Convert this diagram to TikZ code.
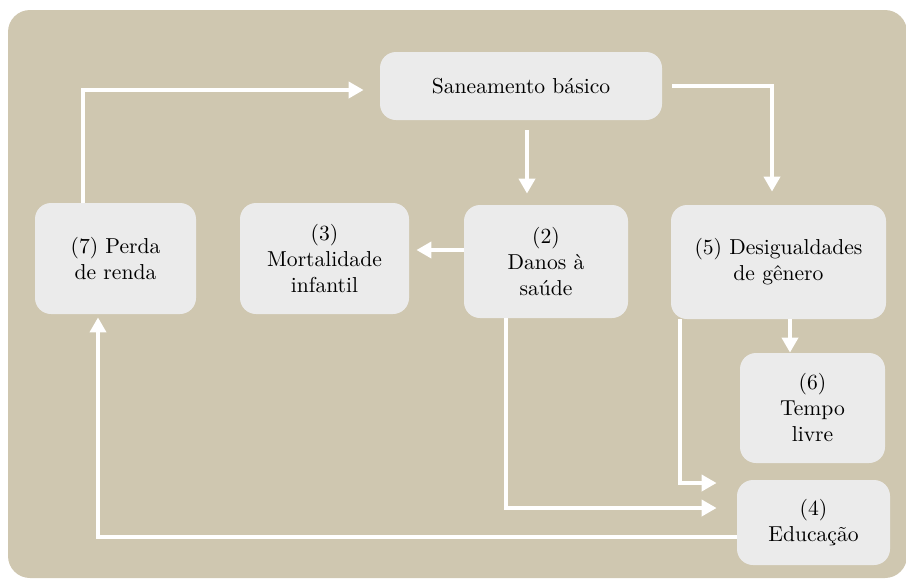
\documentclass[tikz,border=0pt]{standalone}
\usetikzlibrary{arrows.meta}

\definecolor{panelbeige}{RGB}{207,199,176}
\definecolor{boxgray}{RGB}{235,235,235}

\begin{document}
\begin{tikzpicture}[x=0.5pt,y=-0.5pt,
    box/.style={fill=boxgray,rounded corners=8pt,inner sep=2pt,align=center,
      font=\fontsize{10.8}{13}\selectfont},
    flow/.style={draw=white,line width=2pt,
      -{Triangle[length=7.5pt,width=8pt]}}]
      \useasboundingbox (0,0) rectangle (906,580);
      \fill[panelbeige,rounded corners=11pt] (8,10) rectangle (907,578);

      %%%%%%%%%%%%%%%%%%%%%%%%%%%%%%%%%%%%%%%%%%%%%%%%%%%%%%%%%%%%%%%%%%%%%%%%%%%
      %%%%  Boxes
      \node[box,minimum width=141pt,minimum height=34pt] (san) at (521,86) {Saneamento básico};
      \node[box,minimum width=80.5pt,minimum height=55.5pt] (perda) at (115.5,258.5) {(7) Perda\\de renda};
      \node[box,minimum width=84.5pt,minimum height=55.5pt] (mort) at (324.5,258.5) {(3)\\Mortalidade\\infantil};
      \node[box,minimum width=82pt,minimum height=56.5pt] (danos) at (546,261.5) {(2)\\Danos à\\saúde};
      \node[box,minimum width=107.5pt,minimum height=57pt] (desig) at (778.5,262) {(5) Desigualdades\\de gênero};
      \node[box,minimum width=72.5pt,minimum height=55pt] (tempo) at (812.5,408) {(6)\\Tempo\\livre};
      \node[box,minimum width=76.5pt,minimum height=42.5pt] (educ) at (813.5,522.5) {(4)\\Educação};

      %%%%%%%%%%%%%%%%%%%%%%%%%%%%%%%%%%%%%%%%%%%%%%%%%%%%%%%%%%%%%%%%%%%%%%%%%%%
      %%%%  Arrows
      \draw[flow,shorten >=8pt] ([xshift=-16.25pt]perda.north) |- ([yshift=-2pt]san.west);
      \draw[flow,shorten >=6.5pt] ([xshift=5pt]san.east) -| ([xshift=-3.25pt]desig.north);
      \draw[flow,shorten <=5pt,shorten >=5.5pt] ([xshift=3pt]san.south) -- ([xshift=-9.5pt]danos.north);
      \draw[flow,shorten >=3.5pt] ([yshift=5.75pt]danos.west) -- ([yshift=4.25pt]mort.east);
      \draw[flow] ([xshift=5.75pt]desig.south) -- ([xshift=-11.25pt]tempo.north);
      \draw[flow,shorten >=10pt] ([xshift=-49.25pt]desig.south) |- ([yshift=19.75pt]educ.west);
      \draw[flow,shorten >=10pt] ([xshift=-20pt]danos.south) |- ([yshift=7.25pt]educ.west);
      \draw[flow,shorten >=1.5pt] ([yshift=-7.25pt]educ.west) -| ([xshift=-8.75pt]perda.south);
    \end{tikzpicture}
\end{document}
